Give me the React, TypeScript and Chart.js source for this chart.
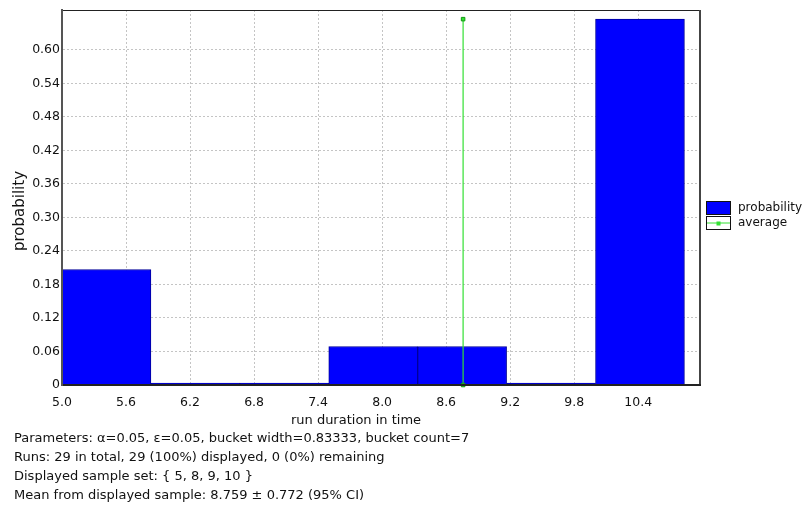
import React, { useEffect, useRef } from "react";
import { Chart, registerables } from "chart.js";

Chart.register(...registerables);

// ---- data ----
const bucketStarts = [5.0, 5.83333, 6.66667, 7.5, 8.33333, 9.16667, 10.0];
const bucketWidth = 0.83333;
const probabilities = [0.2069, 0, 0, 0.069, 0.069, 0, 0.6552];
const averageX = [8.759, 8.759];
const averageY = [0, 0.6552];
const xTicks = [5.0, 5.6, 6.2, 6.8, 7.4, 8.0, 8.6, 9.2, 9.8, 10.4];
const xTickLabels = ["5.0", "5.6", "6.2", "6.8", "7.4", "8.0", "8.6", "9.2", "9.8", "10.4"];
const yTicks = [0, 0.06, 0.12, 0.18, 0.24, 0.3, 0.36, 0.42, 0.48, 0.54, 0.6];
const yTickLabels = ["0", "0.06", "0.12", "0.18", "0.24", "0.30", "0.36", "0.42", "0.48", "0.54", "0.60"];
const seriesLabels = ["probability", "average"];
const xTitle = "run duration in time";
const yTitle = "probability";
const infoLines = [
  "Parameters: \u03b1=0.05, \u03b5=0.05, bucket width=0.83333, bucket count=7",
  "Runs: 29 in total, 29 (100%) displayed, 0 (0%) remaining",
  "Displayed sample set: { 5, 8, 9, 10 }",
  "Mean from displayed sample: 8.759 \u00b1 0.772 (95% CI)",
];

const FONT = "'DejaVu Sans', Verdana, sans-serif";
const BAR_FILL = "#0000ff";
const BAR_BORDER = "#000099";
const AVG_COLOR = "#33e033";
const AVG_POINT_BORDER = "#119911";

export default function App() {
  const canvasRef = useRef<HTMLCanvasElement | null>(null);

  useEffect(() => {
    const canvas = canvasRef.current;
    if (!canvas) return;

    const xMin = bucketStarts[0];
    const xEnd = bucketStarts[bucketStarts.length - 1] + bucketWidth;
    const xMax = xMin + (xEnd - xMin) * 1.025;
    const yMax = Math.max(...probabilities) * 1.025;
    const bucketEdges = [...bucketStarts, xEnd];

    const decor = {
      id: "decor",
      afterDatasetsDraw(chart: any) {
        const { ctx, chartArea: a } = chart;
        ctx.save();
        ctx.strokeStyle = "#222";
        ctx.lineWidth = 1;
        ctx.beginPath();
        ctx.moveTo(a.left, a.top + 0.5);
        ctx.lineTo(a.right, a.top + 0.5);
        ctx.stroke();
        ctx.strokeStyle = "#444";
        ctx.lineWidth = 2;
        ctx.beginPath();
        ctx.moveTo(a.right, a.top);
        ctx.lineTo(a.right, a.bottom + 1);
        ctx.stroke();
        ctx.restore();
      },
      afterDraw(chart: any) {
        const { ctx } = chart;
        ctx.save();
        ctx.fillStyle = "#111";
        // axis titles
        ctx.font = `13px ${FONT}`;
        ctx.textAlign = "center";
        ctx.textBaseline = "alphabetic";
        ctx.fillText(xTitle, 356, 424);
        ctx.save();
        ctx.translate(24, 211);
        ctx.rotate(-Math.PI / 2);
        ctx.font = `15px ${FONT}`;
        ctx.textBaseline = "alphabetic";
        ctx.fillText(yTitle, 0, 0);
        ctx.restore();

        // legend
        const ds = chart.data.datasets;
        const lx = 706;
        const ly = 201;
        const bw = 24;
        const bh = 13;
        ctx.font = `12px ${FONT}`;
        ctx.textAlign = "left";
        ctx.textBaseline = "middle";
        // probability
        ctx.fillStyle = ds[1].backgroundColor;
        ctx.fillRect(lx, ly, bw, bh);
        ctx.strokeStyle = "#111";
        ctx.lineWidth = 1;
        ctx.strokeRect(lx + 0.5, ly + 0.5, bw, bh);
        ctx.fillStyle = "#111";
        ctx.fillText(ds[1].label, lx + 32, ly + bh / 2 + 0.5);
        // average
        const ly2 = ly + 15;
        ctx.fillStyle = "#fff";
        ctx.fillRect(lx, ly2, bw, bh);
        ctx.strokeStyle = "#111";
        ctx.strokeRect(lx + 0.5, ly2 + 0.5, bw, bh);
        ctx.strokeStyle = ds[0].borderColor;
        ctx.lineWidth = 1;
        ctx.beginPath();
        ctx.moveTo(lx + 1, ly2 + 7);
        ctx.lineTo(lx + bw, ly2 + 7);
        ctx.stroke();
        ctx.fillStyle = ds[0].pointBackgroundColor;
        ctx.fillRect(lx + bw / 2 - 1.5, ly2 + 5.5, 4, 4);
        ctx.fillStyle = "#111";
        ctx.fillText(ds[0].label, lx + 32, ly2 + bh / 2 + 0.5);
        ctx.restore();
      },
    };

    const chart = new Chart(canvas, {
      type: "bar",
      data: {
        datasets: [
          {
            type: "line",
            label: seriesLabels[1],
            data: averageX.map((x, i) => ({ x, y: averageY[i] })),
            xAxisID: "x",
            yAxisID: "y",
            borderColor: AVG_COLOR,
            borderWidth: 1.2,
            pointStyle: "rect",
            pointRadius: 2.5,
            pointBackgroundColor: AVG_COLOR,
            pointBorderColor: AVG_POINT_BORDER,
            pointBorderWidth: 1,
            fill: false,
            clip: false as any,
            order: 0,
          } as any,
          {
            type: "bar",
            label: seriesLabels[0],
            data: bucketStarts.map((s, i) => ({ x: s + bucketWidth / 2, y: probabilities[i] })),
            xAxisID: "xb",
            yAxisID: "y",
            backgroundColor: BAR_FILL,
            borderColor: BAR_BORDER,
            borderWidth: 1,
            borderSkipped: "start",
            minBarLength: 2,
            barPercentage: 1,
            categoryPercentage: 1,
            grouped: false,
            order: 1,
          } as any,
        ],
      },
      options: {
        responsive: false,
        animation: false,
        events: [],
        layout: { padding: { top: 10, right: 107, left: 0, bottom: 0 } },
        plugins: {
          legend: { display: false },
          tooltip: { enabled: false },
          title: { display: false },
        },
        scales: {
          x: {
            type: "linear",
            position: "bottom",
            offset: false,
            min: xMin,
            max: xMax,
            afterBuildTicks: (scale: any) => {
              scale.ticks = xTicks.map((v) => ({ value: v }));
            },
            afterFit: (scale: any) => {
              scale.height = 122;
            },
            ticks: {
              autoSkip: false,
              maxRotation: 0,
              padding: 10,
              color: "#111",
              font: { family: FONT, size: 12.5 },
              callback: (_v: any, i: number) => xTickLabels[i],
            },
            grid: { color: "#c4c4c4", lineWidth: 1, drawTicks: false, offset: false },
            border: { display: true, color: "#222", width: 2, dash: [2, 2], z: 1 },
          },
          xb: {
            type: "linear",
            display: false,
            offset: false,
            min: xMin,
            max: xMax,
            afterBuildTicks: (scale: any) => {
              scale.ticks = bucketEdges.map((v) => ({ value: v }));
            },
            grid: { display: false, offset: false },
          },
          y: {
            type: "linear",
            position: "left",
            min: 0,
            max: yMax,
            afterBuildTicks: (scale: any) => {
              scale.ticks = yTicks.map((v) => ({ value: v }));
            },
            afterFit: (scale: any) => {
              scale.width = 62;
            },
            ticks: {
              autoSkip: false,
              padding: 2,
              color: "#111",
              font: { family: FONT, size: 12.5 },
              callback: (_v: any, i: number) => yTickLabels[i],
            },
            grid: { color: "#c4c4c4", lineWidth: 1, drawTicks: false },
            border: { display: true, color: "#555", width: 2, dash: [2, 2], z: 1 },
          },
        },
      } as any,
      plugins: [decor as any],
    });

    return () => chart.destroy();
  }, []);

  return (
    <div style={{ position: "absolute", left: 0, top: 0, width: 807, height: 507, background: "#fff" }}>
      <canvas ref={canvasRef} width={807} height={507} style={{ display: "block" }} />
      <div
        style={{
          position: "absolute",
          left: 14,
          top: 428,
          fontFamily: FONT,
          fontSize: 13,
          lineHeight: "19px",
          color: "#111",
          whiteSpace: "nowrap",
        }}
      >
        {infoLines.map((t, i) => (
          <div key={i}>{t}</div>
        ))}
      </div>
    </div>
  );
}
